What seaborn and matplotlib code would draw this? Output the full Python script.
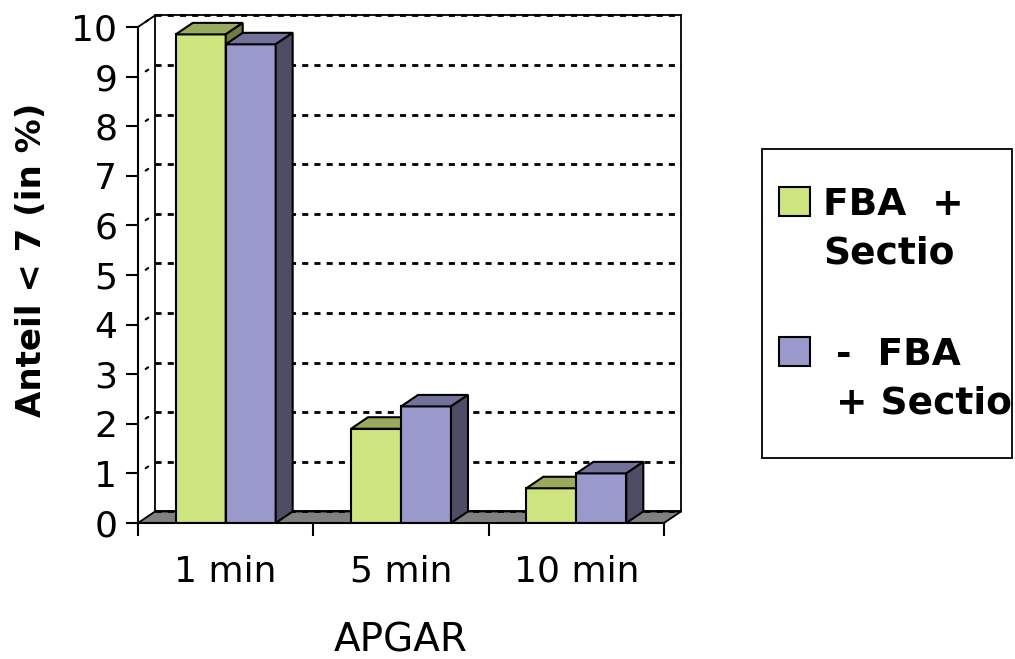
import pandas as pd
import seaborn as sns
import matplotlib.pyplot as plt
from matplotlib.patches import Polygon, Rectangle

categories = ['1 min', '5 min', '10 min']
groups = ['FBA  +\nSectio', ' -  FBA\n + Sectio']
fba_sectio = [9.85, 1.9, 0.7]
ohne_fba_sectio = [9.65, 2.35, 1.0]
y_ticks = list(range(0, 11))

front_colors = ['#CDE47F', '#9999CC']
top_colors = ['#9AAA5C', '#717199']
side_colors = ['#6F7C40', '#4D4D66']

df = pd.DataFrame({
    'APGAR': categories * 2,
    'Anteil': fba_sectio + ohne_fba_sectio,
    'Gruppe': [groups[0]] * len(categories) + [groups[1]] * len(categories),
})

sns.set_style('white')
plt.rcParams['font.family'] = ['DejaVu Sans']
plt.rcParams.update({'text.color': 'black', 'axes.labelcolor': 'black',
                     'xtick.color': 'black', 'ytick.color': 'black'})

fig = plt.figure(figsize=(10.15, 6.59), dpi=100)
ax = fig.add_axes([0.136, 0.2064, 0.5182, 0.7527])

sns.barplot(data=df, x='APGAR', y='Anteil', hue='Gruppe', order=categories, hue_order=groups,
            palette=front_colors, saturation=1, width=0.57, edgecolor='black', linewidth=1.5, ax=ax)

ax.set_xlim(-0.5, len(categories) - 0.5)
ax.set_ylim(0, 10)

# pseudo 3d depth (pixels -> data units)
bb = ax.get_window_extent()
dx = 17 / (bb.width / len(categories))
dy = 11.5 / (bb.height / 10)
x0, x1 = ax.get_xlim()

# back wall, floor and dashed grid
ax.add_patch(Polygon([(x0 + dx, dy), (x1 + dx, dy), (x1 + dx, 10 + dy), (x0 + dx, 10 + dy)],
                     closed=True, facecolor='white', edgecolor='black', lw=1.3, zorder=0.3, clip_on=False))
ax.add_patch(Polygon([(x0, 0), (x1, 0), (x1 + dx, dy), (x0 + dx, dy)],
                     closed=True, facecolor='#808080', edgecolor='black', lw=1.3, zorder=0.5, clip_on=False))
ax.hlines([v + dy for v in y_ticks], x0 + dx, x1 + dx, colors='black', linestyles=(0, (2.2, 2.2)),
          lw=2, zorder=0.6, clip_on=False)
for v in y_ticks[1:]:
    ax.plot([x0 + 0.45 * dx, x0 + 0.6 * dx], [v + 0.45 * dy, v + 0.6 * dy], color='black', lw=1.5,
            zorder=0.6, clip_on=False)
ax.plot([x0, x0 + dx], [10, 10 + dy], color='black', lw=1.3, zorder=0.6, clip_on=False)

# top and side faces of the columns
for i, cont in enumerate(ax.containers):
    for p in cont:
        p.set_zorder(2 + i)
        bx, w, h = p.get_x(), p.get_width(), p.get_height()
        ax.add_patch(Polygon([(bx, h), (bx + w, h), (bx + w + dx, h + dy), (bx + dx, h + dy)], closed=True,
                             facecolor=top_colors[i], edgecolor='black', lw=1.5, zorder=2.1 + i, clip_on=False))
        ax.add_patch(Polygon([(bx + w, 0), (bx + w + dx, dy), (bx + w + dx, h + dy), (bx + w, h)], closed=True,
                             facecolor=side_colors[i], edgecolor='black', lw=1.5, zorder=2.1 + i, clip_on=False))

for s in ['top', 'right']:
    ax.spines[s].set_visible(False)
for s in ['left', 'bottom']:
    ax.spines[s].set_color('black')
    ax.spines[s].set_linewidth(1.5)
    ax.spines[s].set_zorder(5)

ax.set_yticks(y_ticks)
ax.tick_params(axis='y', left=True, direction='out', length=9, width=1.5, labelsize=26, pad=6)
ax.set_xticks(range(len(categories)))
ax.set_xticklabels(categories)
ax.set_xticks([c - 0.5 for c in range(len(categories) + 1)], minor=True)
ax.tick_params(axis='x', which='major', bottom=False, length=0, labelsize=26, pad=23)
ax.tick_params(axis='x', which='minor', bottom=True, direction='out', length=9, width=1.5)

ax.set_xlabel('APGAR', fontsize=28)
ax.xaxis.set_label_coords(0.5, -0.198)
ax.set_ylabel('Anteil < 7 (in %)', fontsize=24.5, fontweight='bold')
ax.yaxis.set_label_coords(-0.172, 0.53)

sns.move_legend(ax, 'upper left', bbox_to_anchor=(779 / 1015, 1 - 187 / 659), bbox_transform=fig.transFigure,
                title=None, frameon=False, prop={'weight': 'bold', 'size': 27}, handlelength=0.82,
                handleheight=0.82, handletextpad=0.35, labelspacing=1.75, borderpad=0, borderaxespad=0)
leg = ax.get_legend()
for t in leg.get_texts():
    t.set_linespacing(1.45)
for h in leg.legend_handles:
    h.set_edgecolor('black')
    h.set_linewidth(1.5)
for col in leg._legend_handle_box.get_children():
    for item in col.get_children():
        item.align = 'top'
fig.add_artist(Rectangle((762 / 1015, 1 - 458 / 659), 250 / 1015, 309 / 659, transform=fig.transFigure,
                         fill=False, edgecolor='black', lw=1.3))

fig.savefig('out.png', dpi=100)
